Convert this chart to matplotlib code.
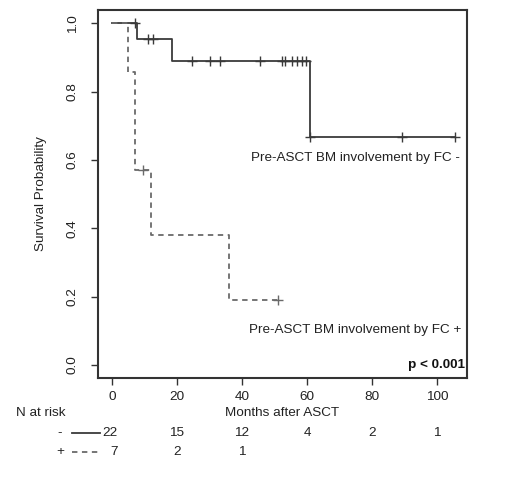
import numpy as np
import matplotlib.pyplot as plt

plt.rcParams['font.family'] = ['Liberation Sans', 'DejaVu Sans']

# Kaplan-Meier step data
neg_times = [0, 7.6, 18.4, 60.8, 105.5]
neg_surv = [1.0, 0.955, 0.891, 0.668, 0.668]
neg_censor = [7.1, 11.2, 12.7, 24.5, 30.2, 33.2, 45.5, 52.2, 53.2, 55.3, 56.8, 58.4, 59.7, 61.0, 89.1, 105.5]

pos_times = [0, 5.0, 7.1, 12.0, 36.1, 51.0]
pos_surv = [1.0, 0.857, 0.571, 0.381, 0.190, 0.190]
pos_censor = [9.4, 51.0]

risk_ticks = [0, 20, 40, 60, 80, 100]
risk_neg = ['22', '15', '12', '4', '2', '1']
risk_pos = ['7', '2', '1']

FS = 9.7


def surv_at(times, surv, t):
    i = np.searchsorted(times, t, side='right') - 1
    return surv[i]


fig = plt.figure(figsize=(5.2, 4.97), dpi=100)
ax = fig.add_axes([98 / 520, 1 - 378 / 497, (467 - 98) / 520, (378 - 10) / 497])

solid_col = '#3a3a3a'
dash_col = '#6a6a6a'

ax.step(neg_times, neg_surv, where='post', color=solid_col, lw=1.3)
ax.plot(neg_censor, [surv_at(neg_times, neg_surv, t) for t in neg_censor],
        ls='none', marker='+', ms=7, mew=1.0, color=solid_col)

ax.step(pos_times, pos_surv, where='post', color=dash_col, lw=1.3, ls=(0, (3, 2.5)))
ax.plot(pos_censor, [surv_at(pos_times, pos_surv, t) for t in pos_censor],
        ls='none', marker='+', ms=7, mew=1.0, color=dash_col)

ax.set_xlim(-4.3, 109.2)
ax.set_ylim(-0.038, 1.039)
ax.set_xticks(risk_ticks)
ax.set_yticks([0, 0.2, 0.4, 0.6, 0.8, 1.0])
ax.set_yticklabels(['0.0', '0.2', '0.4', '0.6', '0.8', '1.0'], rotation=90, va='center')
ax.tick_params(direction='out', length=5, width=1, colors='#333333', labelsize=FS, labelcolor='#222222')
ax.tick_params(axis='x', pad=4)
ax.tick_params(axis='y', pad=9)
for sp in ax.spines.values():
    sp.set_linewidth(1.5)
    sp.set_color('#333333')

ax.set_ylabel('Survival Probability', fontsize=FS, color='#222222', labelpad=14)

ax.text(107, 0.606, 'Pre-ASCT BM involvement by FC -', ha='right', va='center', fontsize=FS, color='#222222')
ax.text(107.5, 0.102, 'Pre-ASCT BM involvement by FC +', ha='right', va='center', fontsize=FS, color='#222222')
ax.text(108.7, 0.0, 'p < 0.001', ha='right', va='center', fontsize=FS, fontweight='bold', color='#111111')


# below-axis labels and number-at-risk table (figure pixel coords)
def fx(px):
    return px / 520


def fy(py):
    return 1 - py / 497


fig.text(fx(282.5), fy(413), 'Months after ASCT', ha='center', va='center', fontsize=FS, color='#222222')
fig.text(fx(16), fy(413), 'N at risk', ha='left', va='center', fontsize=FS, color='#222222')

for i, (t, n) in enumerate(zip(risk_ticks, risk_neg)):
    x = fx(118) if i == 0 else fx(112 + t * 3.25)
    fig.text(x, fy(433), n, ha='right' if i == 0 else 'center', va='center', fontsize=FS, color='#222222')
for i, n in enumerate(risk_pos):
    x = fx(118) if i == 0 else fx(112 + risk_ticks[i] * 3.25)
    fig.text(x, fy(452), n, ha='right' if i == 0 else 'center', va='center', fontsize=FS, color='#222222')

fig.text(fx(60), fy(433), '-', ha='center', va='center', fontsize=FS, color='#222222')
fig.text(fx(60), fy(452), '+', ha='center', va='center', fontsize=FS, color='#222222')
fig.add_artist(plt.Line2D([fx(72), fx(100)], [fy(433), fy(433)], color=solid_col, lw=1.3))
fig.add_artist(plt.Line2D([fx(72), fx(100)], [fy(452), fy(452)], color=dash_col, lw=1.3, ls=(0, (3, 2.5))))

fig.savefig('out.png', dpi=100, facecolor='white')
